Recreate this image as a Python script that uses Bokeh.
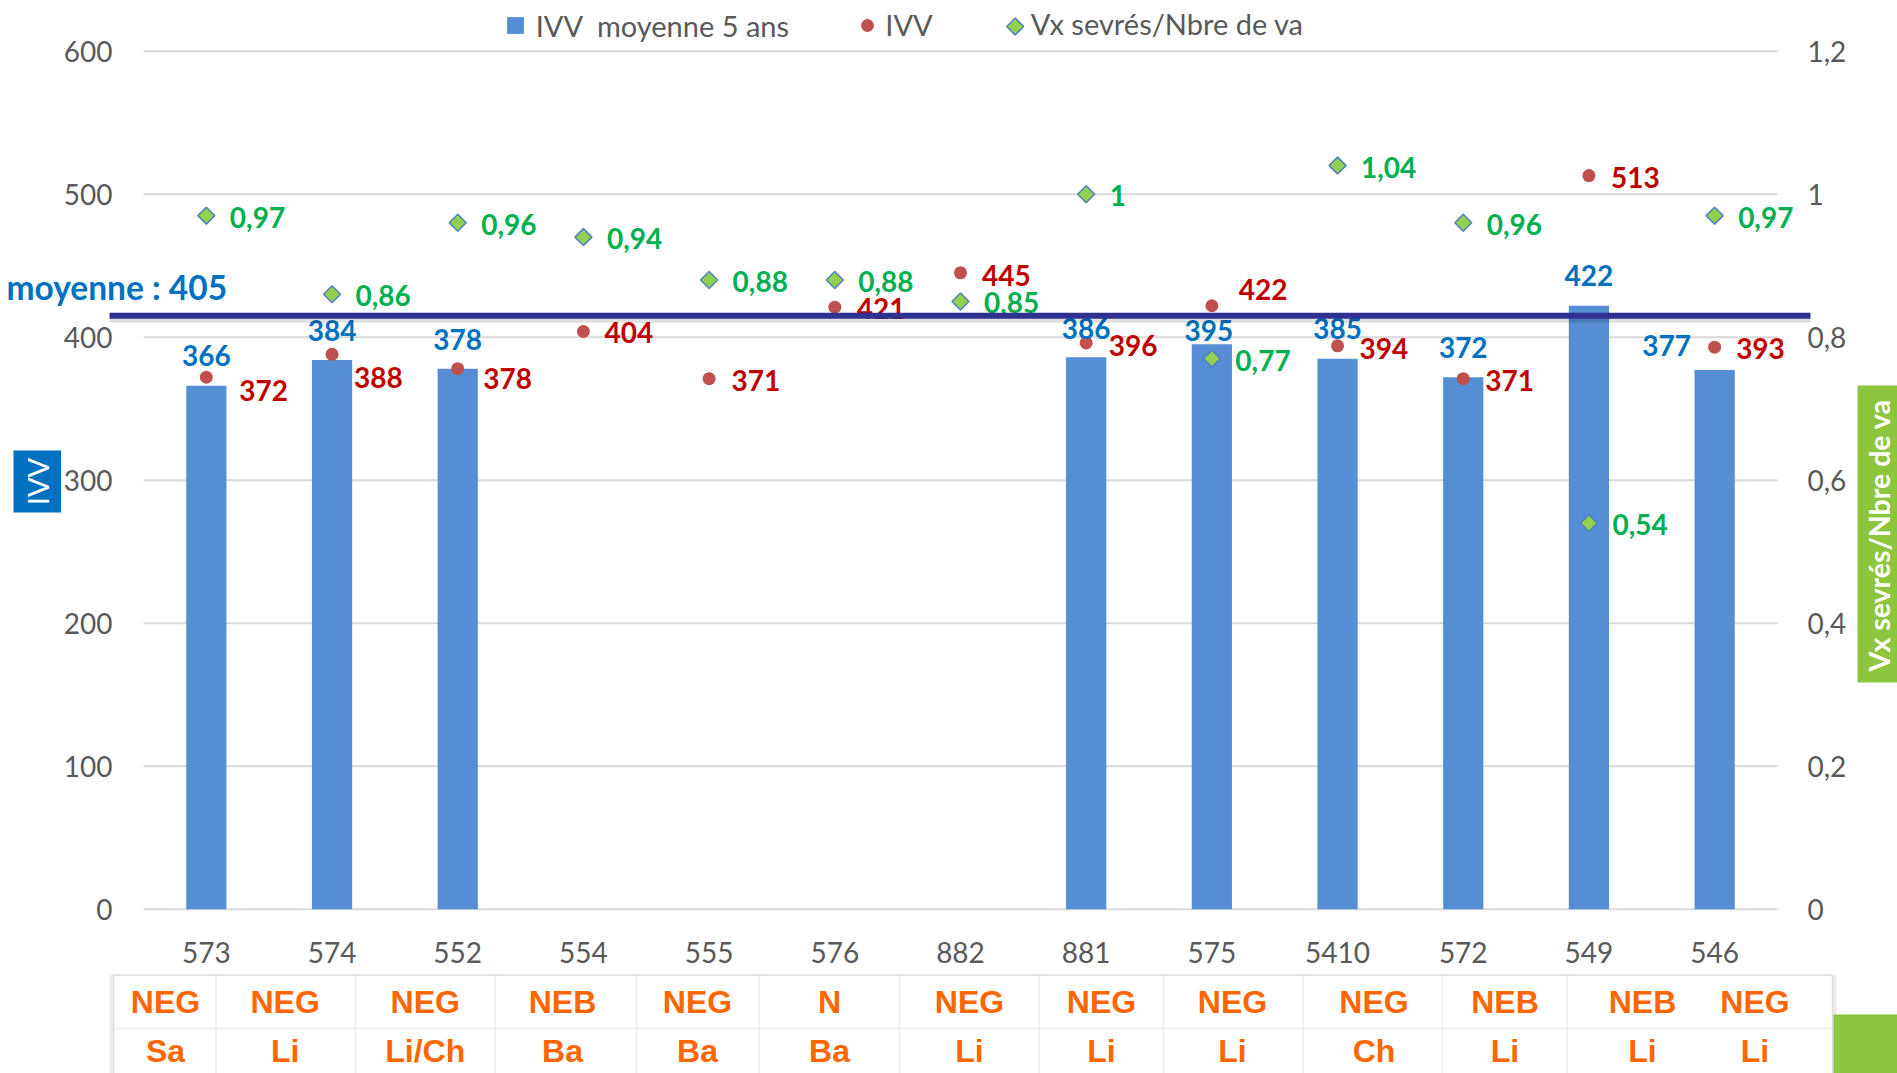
import numpy as np
from bokeh.plotting import figure
from bokeh.models import (ColumnDataSource, Range1d, LinearAxis, FixedTicker,
                          CustomJSTickFormatter, Label, Legend, LegendItem)
from bokeh.core.properties import value
from bokeh.embed import file_html
from bokeh.resources import INLINE

# ---------------- data ----------------
categories = ["573", "574", "552", "554", "555", "576", "882", "881", "575", "5410", "572", "549", "546"]
ivv_moy5 = [366, 384, 378, None, None, None, None, 386, 395, 385, 372, 422, 377]
ivv = [372, 388, 378, 404, 371, 421, 445, 396, 422, 394, 371, 513, 393]
vx_ratio = [0.97, 0.86, 0.96, 0.94, 0.88, 0.88, 0.85, 1.00, 0.77, 1.04, 0.96, 0.54, 0.97]
type_row = ["NEG", "NEG", "NEG", "NEB", "NEG", "N", "NEG", "NEG", "NEG", "NEG", "NEB", "NEB", "NEG"]
place_row = ["Sa", "Li", "Li/Ch", "Ba", "Ba", "Ba", "Li", "Li", "Li", "Ch", "Li", "Li", "Li"]
left_ticks = [0, 100, 200, 300, 400, 500, 600]
right_ticks = [0, 0.2, 0.4, 0.6, 0.8, 1, 1.2]
mean_label = "moyenne : 405"
mean_line_value = 415
legend_labels = ["IVV  moyenne 5 ans", "IVV", "Vx sevrés/Nbre de va"]
left_title = "IVV"
right_title = "Vx sevrés/Nbre de va"

# ---------------- layout (pixels) ----------------
W, H = 1897, 1073
GRID_LEFT_PX = 143.0      # left end of the category band
CAT_PX = 125.69           # width of one category
ZERO_PX = 908.7           # y pixel of value 0
PX_PER_UNIT = 1.43        # pixels per IVV unit
RIGHT_SCALE = 500.0       # IVV units per 1.0 of the right axis


def sx(px):
    return (px - GRID_LEFT_PX) / CAT_PX


def sy(py):
    return (ZERO_PX - py) / PX_PER_UNIT


blue_dx = [0, 0, 0, 0, 0, 0, 0, 0, -3, 0, 0, 0, -48]
blue_dy = [-30, -30, -29, 0, 0, 0, 0, -28.5, -14, -30, -30, -30, -25]
red_dx = [33, 22, 25.5, 21, 22.5, 22, 21.5, 22.5, 27, 22, 22, 22, 21.5]
red_dy = [13, 23, 10, 1.5, 2, 1.5, 2.5, 2.5, -16.5, 2.5, 1.5, 1.5, 1.5]
green_dx = [23.5] * 13
green_dy = [1.5] * 13

FONT = "Lato"
LBL_SIZE = "28px"

p = figure(width=W, height=H,
           x_range=Range1d(sx(0), sx(W)), y_range=Range1d(sy(H), sy(0)),
           output_backend="svg", toolbar_location=None,
           x_axis_location=None, y_axis_location=None,
           min_border_left=0, min_border_right=0, min_border_top=0, min_border_bottom=0)
p.outline_line_color = None
p.grid.visible = False
p.extra_y_ranges = {"vx": Range1d(sy(H) / RIGHT_SCALE, sy(0) / RIGHT_SCALE)}

xc = [i + 0.5 for i in range(len(categories))]

# gridlines across the category band
p.segment(x0=[0] * len(left_ticks), x1=[len(categories)] * len(left_ticks),
          y0=left_ticks, y1=left_ticks, line_color="#D9D9D9", line_width=2)

# bars
bar_vals = np.array([np.nan if v is None else v for v in ivv_moy5], dtype=float)
bar_src = ColumnDataSource(dict(x=xc, top=bar_vals))
p.vbar(x="x", top="top", width=0.32, source=bar_src, fill_color="#558ED5", line_color=None)

# points
pt_src = ColumnDataSource(dict(
    x=xc, ivv=ivv, vx=vx_ratio,
    ivv_txt=[str(v) for v in ivv],
    vx_txt=[("%g" % v).replace(".", ",") for v in vx_ratio],
    rdx=red_dx, rdy=red_dy, gdx=green_dx, gdy=green_dy))
p.scatter(x="x", y="ivv", source=pt_src, marker="circle", size=13,
          fill_color="#C0504D", line_color=None)
p.scatter(x="x", y="vx", source=pt_src, y_range_name="vx", marker="square", angle=np.pi / 4,
          size=12, fill_color="#92D050", line_color="#4F81BD", line_width=1.5)

# data labels
keep = [i for i, v in enumerate(ivv_moy5) if v is not None]
blue_src = ColumnDataSource(dict(
    x=[xc[i] for i in keep], top=[ivv_moy5[i] for i in keep],
    txt=[str(ivv_moy5[i]) for i in keep],
    dx=[blue_dx[i] for i in keep], dy=[blue_dy[i] for i in keep]))
p.text(x="x", y="top", text="txt", source=blue_src, x_offset="dx", y_offset="dy",
       text_align="center", text_baseline="middle", text_font=value(FONT),
       text_font_style="bold", text_font_size=LBL_SIZE, text_color="#0070C0")
p.text(x="x", y="ivv", text="ivv_txt", source=pt_src, x_offset="rdx", y_offset="rdy",
       text_align="left", text_baseline="middle", text_font=value(FONT),
       text_font_style="bold", text_font_size=LBL_SIZE, text_color="#C00000")
p.text(x="x", y="vx", text="vx_txt", source=pt_src, y_range_name="vx", x_offset="gdx", y_offset="gdy",
       text_align="left", text_baseline="middle", text_font=value(FONT),
       text_font_style="bold", text_font_size=LBL_SIZE, text_color="#00B050")

# mean line (with a soft shadow) drawn over the other marks
MEAN_X0, MEAN_X1 = sx(109), sx(1810)
p.segment(x0=[MEAN_X0], x1=[MEAN_X1], y0=[mean_line_value - 4 / PX_PER_UNIT],
          y1=[mean_line_value - 4 / PX_PER_UNIT], line_color="black", line_alpha=0.12, line_width=6)
p.segment(x0=[MEAN_X0], x1=[MEAN_X1], y0=[mean_line_value], y1=[mean_line_value],
          line_color="#2E3192", line_width=6)
p.add_layout(Label(x=6, x_units="screen", y=mean_line_value, y_units="data", y_offset=29,
                   text=mean_label, text_font=FONT, text_font_style="bold",
                   text_font_size="33.5px", text_color="#0070C0", text_baseline="middle"))

# axes, pinned inside the canvas
fmt_right = CustomJSTickFormatter(code="return String(Math.round(tick*10)/10).replace('.', ',')")
ax_l = LinearAxis(fixed_location=sx(112), ticker=FixedTicker(ticks=left_ticks))
ax_r = LinearAxis(fixed_location=sx(1807), y_range_name="vx", ticker=FixedTicker(ticks=right_ticks),
                  formatter=fmt_right)
ax_b = LinearAxis(fixed_location=0, ticker=FixedTicker(ticks=xc),
                  major_label_overrides={c: lab for c, lab in zip(xc, categories)})
p.add_layout(ax_l, "left")
p.add_layout(ax_r, "right")
p.add_layout(ax_b, "below")
for ax in [ax_l, ax_r, ax_b]:
    ax.axis_line_color = None
    ax.major_tick_line_color = None
    ax.minor_tick_line_color = None
    ax.major_tick_out = 0
    ax.major_tick_in = 0
    ax.minor_tick_out = 0
    ax.minor_tick_in = 0
    ax.major_label_text_font = FONT
    ax.major_label_text_font_size = "28px"
    ax.major_label_text_color = "#595959"
    ax.major_label_standoff = 0
ax_b.major_label_standoff = 33

# axis titles in coloured boxes
p.quad(left=[sx(13)], right=[sx(60.5)], top=[sy(450)], bottom=[sy(512)],
       fill_color="#0070C0", line_color=None)
p.text(x=[sx(37)], y=[sy(481)], text=[left_title], angle=np.pi / 2,
       text_align="center", text_baseline="middle", text_color="white",
       text_font=value(FONT), text_font_size="29px")
p.quad(left=[sx(1857)], right=[sx(1900)], top=[sy(385)], bottom=[sy(682)],
       fill_color="#8CC63F", line_color=None)
p.text(x=[sx(1878)], y=[sy(535)], text=[right_title], angle=np.pi / 2,
       text_align="center", text_baseline="middle", text_color="white",
       text_font=value(FONT), text_font_style="bold", text_font_size="28.5px")

# legends (one per item so each symbol keeps its own size)
nan1 = dict(x=[np.nan], y=[np.nan])
proxy_bar = p.scatter(x="x", y="y", source=ColumnDataSource(nan1), marker="square",
                      fill_color="#558ED5", line_color=None)
proxy_dot = p.scatter(x="x", y="y", source=ColumnDataSource(nan1), marker="circle",
                      fill_color="#C0504D", line_color=None)
proxy_dia = p.scatter(x="x", y="y", source=ColumnDataSource(nan1), marker="square",
                      fill_alpha=0, line_alpha=0)


def add_legend(renderer, label, g, x, y, standoff):
    lg = Legend(items=[LegendItem(label=value(label), renderers=[renderer])],
                location=(x, y), glyph_width=g, glyph_height=g, label_height=g,
                label_standoff=standoff, padding=0, margin=0, spacing=0,
                border_line_color=None, background_fill_alpha=0,
                label_text_font=FONT, label_text_font_size="29px", label_text_color="#595959")
    p.add_layout(lg)


add_legend(proxy_bar, legend_labels[0], 42, 493.7, 1026.7, -3)
add_legend(proxy_dot, legend_labels[1], 32, 851.3, 1030.6, 2)
add_legend(proxy_dia, legend_labels[2], 30, 999.7, 1031.6, 1)
# rotated-square key symbol for the third legend entry (the legend key ignores marker rotation)
p.scatter(x=[sx(1014.7)], y=[sy(26)], marker="square", angle=np.pi / 4, size=12,
          fill_color="#92D050", line_color="#4F81BD", line_width=1.5)

# ---------------- table under the chart ----------------
table_x = [165, 284.6, 424.7, 562, 697, 829, 969, 1101, 1232, 1373.5, 1504.5, 1642, 1754.5]
col_edges = [215.5, 355, 495, 636, 759, 899, 1039, 1163, 1303, 1442, 1567]
T_LEFT, T_RIGHT, T_TOP, T_MID, T_BOT = 113, 1832, 974.5, 1028, 1080
ROW1_Y, ROW2_Y = 1001, 1050

ne = len(col_edges)
p.segment(x0=[sx(v) for v in col_edges], x1=[sx(v) for v in col_edges],
          y0=[sy(T_TOP)] * ne, y1=[sy(T_BOT)] * ne, line_color="#EDEDED", line_width=1.5)
p.segment(x0=[sx(T_LEFT)], x1=[sx(T_RIGHT)], y0=[sy(T_MID)], y1=[sy(T_MID)],
          line_color="#EDEDED", line_width=1.5)
p.segment(x0=[sx(T_LEFT - 2), sx(T_RIGHT + 2)], x1=[sx(T_LEFT - 2), sx(T_RIGHT + 2)],
          y0=[sy(T_TOP)] * 2, y1=[sy(T_BOT)] * 2, line_color="black", line_alpha=0.08, line_width=4)
p.segment(x0=[sx(T_LEFT), sx(T_RIGHT), sx(T_LEFT)], x1=[sx(T_LEFT), sx(T_RIGHT), sx(T_RIGHT)],
          y0=[sy(T_TOP)] * 3, y1=[sy(T_BOT), sy(T_BOT), sy(T_TOP)], line_color="#DCDCDC", line_width=1.5)
p.quad(left=[sx(1833)], right=[sx(1900)], top=[sy(1014)], bottom=[sy(1080)],
       fill_color="#8CC63F", line_color=None)

tx = [sx(v) for v in table_x]
p.text(x=tx, y=[sy(ROW1_Y)] * len(type_row), text=type_row, text_align="center", text_baseline="middle",
       text_font=value("Liberation Sans"), text_font_style="bold", text_font_size="32px", text_color="#FF6600")
p.text(x=tx, y=[sy(ROW2_Y)] * len(place_row), text=place_row, text_align="center", text_baseline="middle",
       text_font=value("Liberation Sans"), text_font_style="bold", text_font_size="32px", text_color="#FF6600")

open("out.html", "w").write(file_html(p, INLINE))
